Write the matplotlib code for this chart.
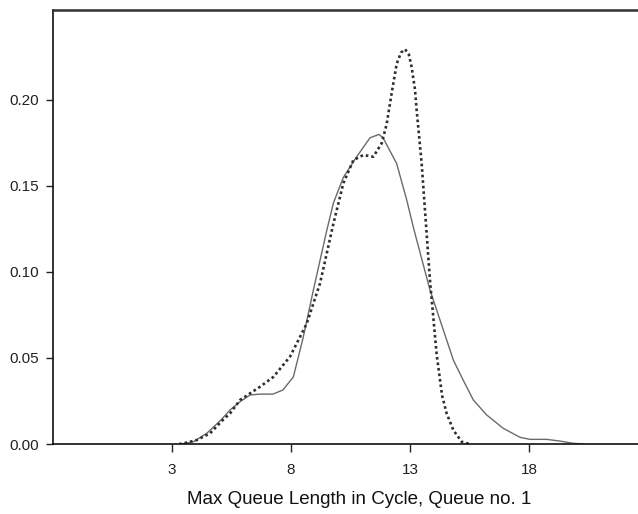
import matplotlib
matplotlib.use("Agg")
import matplotlib.pyplot as plt

# Solid density curve
solid_x = [3.4, 3.9, 4.46, 5.06, 5.44, 5.9, 6.28, 6.7, 7.24, 7.66, 8.1, 8.52, 8.94,
           9.5, 9.78, 10.2, 10.76, 11.32, 11.7, 11.88, 12.44, 12.86, 13.14, 13.84,
           14.68, 14.82, 15.24, 15.66, 16.22, 16.92, 17.62, 18.04, 18.74, 19.3, 19.86, 20.3]
solid_y = [0.0, 0.0013, 0.0062, 0.014, 0.0198, 0.025, 0.0285, 0.029, 0.029, 0.0314,
           0.039, 0.0624, 0.0895, 0.124, 0.140, 0.155, 0.167, 0.178, 0.180, 0.1777,
           0.163, 0.142, 0.126, 0.0895, 0.0547, 0.0488, 0.037, 0.0256, 0.0169, 0.0091,
           0.0039, 0.0027, 0.0027, 0.0017, 0.0004, 0.0]

# Dotted density curve
dotted_x = [3.3, 3.46, 4.04, 4.6, 5.14, 5.44, 5.86, 6.7, 7.26, 7.96, 8.66, 9.22, 9.78,
            10.2, 10.62, 11.04, 11.46, 11.81, 12.02, 12.23, 12.44, 12.62, 12.79, 12.95,
            13.07, 13.21, 13.28, 13.49, 13.67, 13.84, 14.12, 14.35, 14.54, 14.82, 15.17, 15.5]
dotted_y = [0.0, 0.0003, 0.0023, 0.0062, 0.014, 0.0178, 0.0256, 0.0333, 0.039, 0.0508,
            0.070, 0.0934, 0.128, 0.1516, 0.165, 0.168, 0.167, 0.1748, 0.186, 0.204,
            0.221, 0.2275, 0.2295, 0.2265, 0.219, 0.206, 0.194, 0.163, 0.128, 0.095,
            0.052, 0.028, 0.0178, 0.0081, 0.0013, 0.0]

x_ticks = [3, 8, 13, 18]
y_ticks = [0.00, 0.05, 0.10, 0.15, 0.20]
y_tick_labels = ["0.00", "0.05", "0.10", "0.15", "0.20"]
x_label = "Max Queue Length in Cycle, Queue no. 1"

plt.rcParams['font.family'] = ['Liberation Sans', 'DejaVu Sans']

fig = plt.figure(figsize=(6.38, 5.14), dpi=100)
ax = fig.add_axes([53/638, 1-444/514, (665-53)/638, (444-10)/514])

ax.plot(solid_x, solid_y, color='#6a6a6a', lw=1.0, solid_capstyle='round')
ax.plot(dotted_x, dotted_y, color='#2e2e2e', lw=1.9, linestyle=(0, (1, 1.1)))

ax.set_xlim(-2, 3 + (665-172)/23.8)
ax.set_ylim(0, 0.2523)

ax.set_xticks(x_ticks)
ax.set_xticklabels([str(t) for t in x_ticks])
ax.set_yticks(y_ticks)
ax.set_yticklabels(y_tick_labels)

ax.tick_params(axis='x', length=6, width=1.0, pad=8, labelsize=11, colors='#222222')
ax.tick_params(axis='y', length=5, width=1.0, pad=5, labelsize=11, colors='#222222')

for s in ['left', 'bottom']:
    ax.spines[s].set_linewidth(1.2)
    ax.spines[s].set_color('#111111')
ax.spines['top'].set_linewidth(1.8)
ax.spines['top'].set_color('#333333')
ax.spines['right'].set_visible(False)

ax.set_xlabel(x_label, fontsize=13.5, labelpad=10, color='#111111')

fig.savefig('out.png', dpi=100)
